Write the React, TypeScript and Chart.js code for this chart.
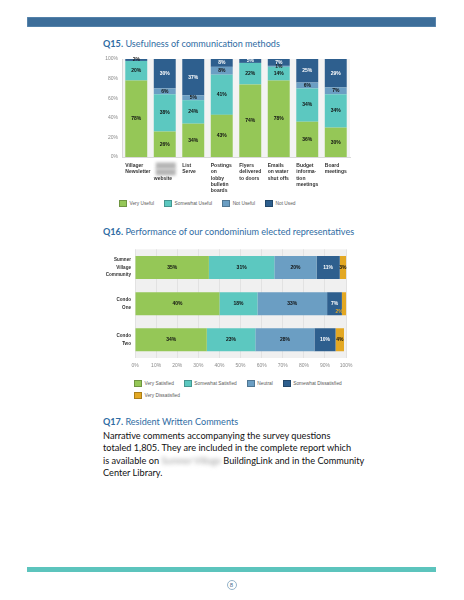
import React, { useEffect, useRef } from "react";
import { Chart, registerables } from "chart.js";
Chart.register(...registerables);

// ---------- Q15 data ----------
const q15Categories: string[][] = [
  ["Villager", "Newsletter"],
  ["~Sumner", "~Village", "website"],
  ["List", "Serve"],
  ["Postings", "on", "lobby", "bulletin", "boards"],
  ["Flyers", "delivered", "to doors"],
  ["Emails", "on water", "shut offs"],
  ["Budget", "informa-", "tion", "meetings"],
  ["Board", "meetings"],
];
const q15SeriesNames = ["Very Useful", "Somewhat Useful", "Not Useful", "Not Used"];
const q15VeryUseful = [78, 26, 34, 43, 74, 78, 36, 30];
const q15SomewhatUseful = [20, 38, 24, 41, 22, 14, 34, 34];
const q15NotUseful = [0, 6, 5, 8, 0, 1, 6, 7];
const q15NotUsed = [2, 30, 37, 8, 5, 7, 25, 29];
const q15TickStep = 20;

// ---------- Q16 data ----------
const q16Categories: string[][] = [
  ["Sumner", "Village", "Community"],
  ["Condo", "One"],
  ["Condo", "Two"],
];
const q16SeriesNames = [
  "Very Satisfied",
  "Somewhat Satisfied",
  "Neutral",
  "Somewhat Dissatisfied",
  "Very Dissatisfied",
];
const q16VerySatisfied = [35, 40, 34];
const q16SomewhatSatisfied = [31, 18, 23];
const q16Neutral = [20, 33, 28];
const q16SomewhatDissatisfied = [11, 7, 10];
const q16VeryDissatisfied = [3, 2, 4];
const q16TickStep = 10;

// ---------- styling ----------
const GREEN = "#95c757";
const TEAL = "#5cc8c0";
const MID = "#6b9ec3";
const DARK = "#2e5f8e";
const GOLD = "#e3a823";
const TITLE_BLUE = "#2f6ca3";

const q15Colors = [GREEN, TEAL, MID, DARK];
const q16Colors = [GREEN, TEAL, MID, DARK, GOLD];

const bgPlugin = {
  id: "plotBg",
  beforeDraw(chart: any, _a: any, opts: any) {
    const { ctx, chartArea } = chart;
    if (!chartArea) return;
    ctx.save();
    ctx.fillStyle = opts.color || "#f2f2f2";
    ctx.fillRect(chartArea.left, chartArea.top, chartArea.right - chartArea.left, chartArea.bottom - chartArea.top);
    ctx.restore();
  },
};

const segLabelsPlugin = {
  id: "segLabels",
  afterDatasetsDraw(chart: any, _a: any, opts: any) {
    const ctx = chart.ctx;
    ctx.save();
    ctx.font = opts.font;
    ctx.textAlign = "center";
    ctx.textBaseline = "middle";
    chart.data.datasets.forEach((ds: any, di: number) => {
      const meta = chart.getDatasetMeta(di);
      meta.data.forEach((el: any, i: number) => {
        const v = ds.data[i];
        if (!v || v < (opts.min ?? 0)) return;
        const p = el.getCenterPoint();
        let x = p.x;
        let y = p.y;
        let color = (opts.colors && opts.colors[di]) || "#111";
        if (opts.tiny && v <= opts.tiny.max) {
          x += opts.tiny.dx;
          y += opts.tiny.dy;
          color = opts.tiny.color || ds.backgroundColor;
        }
        if (opts.smallDark && v < 3) color = "#222";
        ctx.fillStyle = color;
        ctx.fillText(v + "%", x, y);
      });
    });
    ctx.restore();
  },
};

const xLabelsPlugin = {
  id: "leftXLabels",
  afterDraw(chart: any, _a: any, opts: any) {
    const { ctx, chartArea } = chart;
    const xs = chart.scales.x;
    const meta = chart.getDatasetMeta(0);
    ctx.save();
    ctx.textAlign = "left";
    ctx.textBaseline = "middle";
    ctx.font = opts.font;
    (chart.data.labels as string[][]).forEach((lines, i) => {
      const el = meta.data[i];
      const half = el ? el.width / 2 : 0;
      const x = xs.getPixelForValue(i) - half;
      lines.forEach((line, k) => {
        const y = chartArea.bottom + opts.offset + k * opts.lineHeight;
        if (line.startsWith("~")) {
          ctx.save();
          ctx.filter = "blur(1.6px)";
          ctx.fillStyle = "#b5b5b5";
          ctx.fillRect(x + 2, y - 3, 20, 6.5);
          ctx.restore();
        } else {
          ctx.fillStyle = opts.color;
          ctx.fillText(line, x, y);
        }
      });
    });
    ctx.restore();
  },
};

function ChartCanvas({ config, left, top, width, height }: any) {
  const ref = useRef<HTMLCanvasElement>(null);
  useEffect(() => {
    if (!ref.current) return;
    const chart = new Chart(ref.current, config());
    return () => chart.destroy();
  }, []);
  return (
    <canvas
      ref={ref}
      width={width}
      height={height}
      style={{ position: "absolute", left, top, width, height }}
    />
  );
}

const q15Config = () => ({
  type: "bar",
  data: {
    labels: q15Categories,
    datasets: [q15VeryUseful, q15SomewhatUseful, q15NotUseful, q15NotUsed].map((d, i) => ({
      label: q15SeriesNames[i],
      data: d,
      backgroundColor: q15Colors[i],
      borderWidth: 0,
      barPercentage: 0.77,
      categoryPercentage: 1,
    })),
  },
  options: {
    responsive: false,
    animation: false,
    maintainAspectRatio: false,
    layout: { padding: { top: 6, right: 7, left: 0, bottom: 0 } },
    scales: {
      x: {
        stacked: true,
        grid: { display: false, drawTicks: false },
        border: { display: true, color: "#d9d9d9" },
        ticks: { display: false },
        afterFit: (s: any) => { s.height = 40; },
      },
      y: {
        stacked: true,
        min: 0,
        max: 100,
        grid: { display: false, drawTicks: false },
        border: { display: true, color: "#d9d9d9" },
        ticks: {
          stepSize: q15TickStep,
          padding: 4,
          color: "#8a8a8a",
          font: { family: "Liberation Sans", size: 5 },
          callback: (v: any) => v + "%",
        },
        afterFit: (s: any) => { s.width = 27; },
      },
    },
    plugins: {
      legend: { display: false },
      tooltip: { enabled: false },
      plotBg: { color: "#f3f3f3" },
      segLabels: {
        font: "bold 5px 'Liberation Sans'",
        colors: ["#111", "#111", "#111", "#ffffff"],
        smallDark: true,
      },
      leftXLabels: { font: "bold 5px 'Liberation Sans'", color: "#333", offset: 8.5, lineHeight: 6.4 },
    },
  },
  plugins: [bgPlugin, segLabelsPlugin, xLabelsPlugin],
});

const q16Config = () => ({
  type: "bar",
  data: {
    labels: q16Categories,
    datasets: [q16VerySatisfied, q16SomewhatSatisfied, q16Neutral, q16SomewhatDissatisfied, q16VeryDissatisfied].map(
      (d, i) => ({
        label: q16SeriesNames[i],
        data: d,
        backgroundColor: q16Colors[i],
        borderWidth: 0,
        barPercentage: 0.635,
        categoryPercentage: 1,
      })
    ),
  },
  options: {
    indexAxis: "y",
    responsive: false,
    animation: false,
    maintainAspectRatio: false,
    layout: { padding: { top: 4, right: 7.5, left: 0, bottom: 0 } },
    scales: {
      x: {
        stacked: true,
        min: 0,
        max: 100,
        grid: { display: true, color: "#e2e2e2", drawTicks: false },
        border: { display: false },
        ticks: {
          stepSize: q16TickStep,
          padding: 4.5,
          color: "#8a8a8a",
          font: { family: "Liberation Sans", size: 5 },
          callback: (v: any) => v + "%",
        },
        afterFit: (s: any) => { s.height = 13; },
      },
      y: {
        stacked: true,
        grid: { display: false, drawTicks: false },
        border: { display: false },
        ticks: {
          padding: 4,
          color: "#333",
          font: { family: "Liberation Sans", size: 4.6, weight: "bold", lineHeight: 1.6 },
        },
        afterFit: (s: any) => { s.width = 40; },
      },
    },
    plugins: {
      legend: { display: false },
      tooltip: { enabled: false },
      plotBg: { color: "#f0f0f0" },
      segLabels: {
        font: "bold 5px 'Liberation Sans'",
        colors: ["#111", "#111", "#111", "#ffffff", "#111"],
        tiny: { max: 2, dx: -5, dy: 8, color: GOLD },
      },
    },
  },
  plugins: [bgPlugin, segLabelsPlugin],
});

function Legend({ names, colors, left, top, width }: any) {
  return (
    <div
      style={{
        position: "absolute",
        left,
        top,
        width,
        display: "flex",
        flexWrap: "wrap",
        columnGap: 10,
        rowGap: 5,
        fontFamily: "'Liberation Sans', Arial, sans-serif",
        fontSize: 4.8,
        color: "#5a5a5a",
        lineHeight: "6px",
      }}
    >
      {names.map((n: string, i: number) => (
        <div key={n} style={{ display: "flex", alignItems: "center" }}>
          <span
            style={{
              display: "inline-block",
              width: 6,
              height: 5,
              background: colors[i],
              border: "0.5px solid rgba(0,0,0,0.25)",
              marginRight: 2.5,
            }}
          />
          <span style={{ whiteSpace: "nowrap" }}>{n}</span>
        </div>
      ))}
    </div>
  );
}

const titleStyle: React.CSSProperties = {
  position: "absolute",
  left: 103,
  fontFamily: "Lato, 'Open Sans', sans-serif",
  fontSize: 9.1,
  color: TITLE_BLUE,
  whiteSpace: "nowrap",
  lineHeight: "12px",
};

export default function App() {
  return (
    <div
      style={{
        position: "absolute",
        left: 0,
        top: 0,
        width: 464,
        height: 600,
        background: "#fff",
        overflow: "hidden",
      }}
    >
      <div
        style={{
          position: "absolute",
          left: 27,
          top: 17,
          width: 409,
          height: 10,
          background: "#3d6e9a",
          boxShadow: "inset 0 0 0 0.6px #6a93b8",
        }}
      />
      <div style={{ ...titleStyle, top: 38 }}>
        <b>Q15.</b> Usefulness of communication methods
      </div>
      <ChartCanvas config={q15Config} left={95} top={52} width={262} height={145} />
      <Legend names={q15SeriesNames} colors={q15Colors} left={119} top={200} width={240} />

      <div style={{ ...titleStyle, top: 226 }}>
        <b>Q16.</b> Performance of our condominium elected representatives
      </div>
      <ChartCanvas config={q16Config} left={95} top={238} width={262} height={135} />
      <Legend names={q16SeriesNames} colors={q16Colors} left={134} top={380} width={230} />

      <div style={{ ...titleStyle, top: 416 }}>
        <b>Q17.</b> Resident Written Comments
      </div>
      <div
        style={{
          position: "absolute",
          left: 103,
          top: 430,
          width: 280,
          fontFamily: "Lato, 'Open Sans', sans-serif",
          fontSize: 9.2,
          lineHeight: "12.3px",
          color: "#111",
        }}
      >
        Narrative comments accompanying the survey questions
        <br />
        totaled 1,805. They are included in the complete report which
        <br />
        is available on{" "}
        <span style={{ filter: "blur(2px)", color: "#9a9a9a" }}>Sumner Village</span>{" "}
        BuildingLink and in the Community
        <br />
        Center Library.
      </div>

      <div
        style={{
          position: "absolute",
          left: 27,
          top: 567,
          width: 409,
          height: 5,
          background: "#5cc4bd",
        }}
      />
      <div
        style={{
          position: "absolute",
          left: 226.5,
          top: 579.5,
          width: 10,
          height: 10,
          borderRadius: "50%",
          border: "1px solid #94b3ca",
          boxSizing: "border-box",
          display: "flex",
          alignItems: "center",
          justifyContent: "center",
          fontFamily: "'Liberation Sans', sans-serif",
          fontSize: 6,
          color: "#4b6f8f",
        }}
      >
        8
      </div>
    </div>
  );
}
